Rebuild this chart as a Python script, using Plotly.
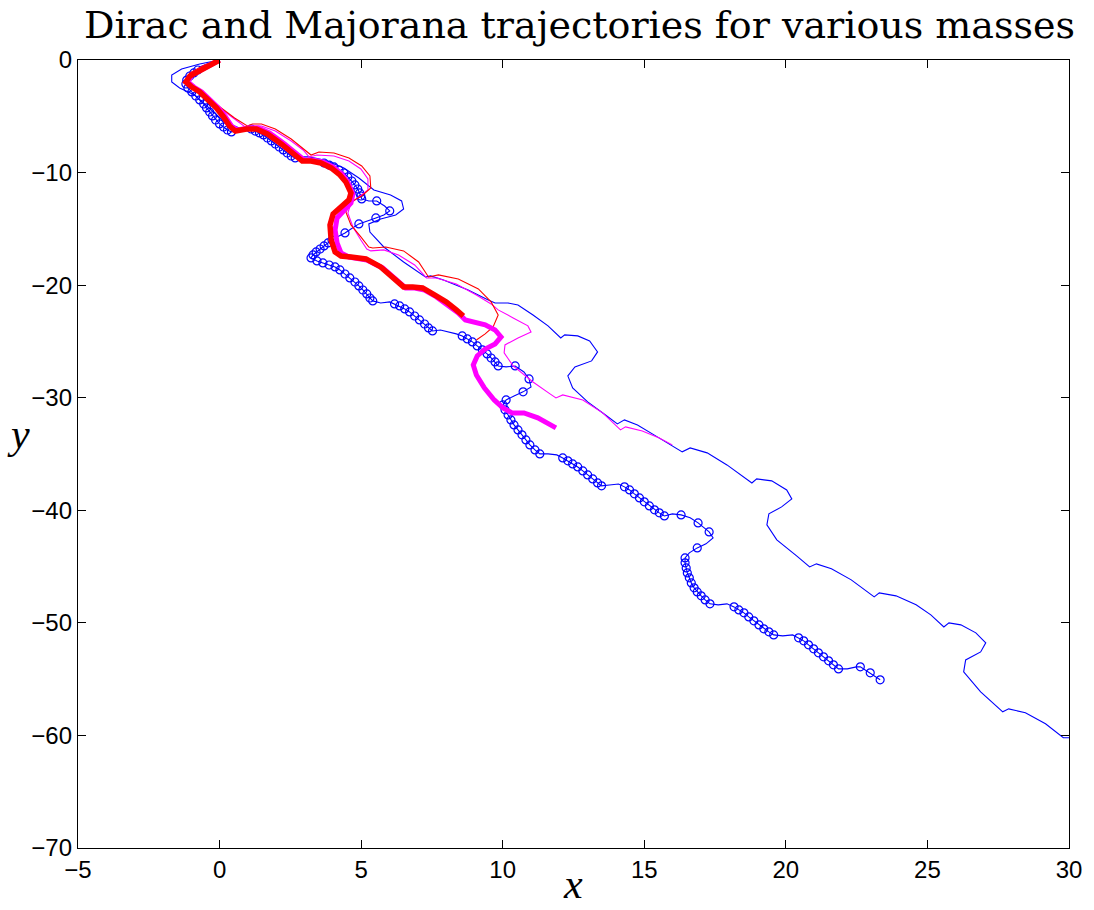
import plotly.graph_objects as go

# ---- trajectory samples (x, y) ----

# heavy red track (Majorana, larger mass)
red_thick_x = [0.00, -0.53, -1.05, -1.19, -0.98, -0.70, -0.39, -0.11, 0.14, 0.35, 0.56, 0.95, 1.30, 1.69,
               2.18, 2.64, 2.92, 3.23, 3.58, 3.94, 4.25, 4.46, 4.64, 4.57, 4.29, 4.01, 3.90, 3.94, 4.08,
               4.29, 4.64, 5.17, 5.69, 6.18, 6.50, 6.82, 7.17, 7.59, 8.01, 8.36, 8.61]
red_thick_y = [0.00, -0.71, -1.42, -1.95, -2.40, -2.84, -3.55, -4.26, -5.06, -5.86, -6.31, -6.13, -6.13,
               -6.57, -7.46, -8.44, -8.97, -8.97, -9.15, -9.59, -10.21, -10.83, -11.81, -12.43, -13.06,
               -13.68, -14.65, -15.99, -17.05, -17.41, -17.50, -17.67, -18.38, -19.45, -20.16, -20.16,
               -20.25, -20.87, -21.49, -22.20, -22.74]

# heavy magenta track
mag_thick_x = [0.00, -0.49, -0.98, -1.12, -0.91, -0.63, -0.32, -0.04, 0.21, 0.42, 0.63, 1.02, 1.37, 1.76,
               2.25, 2.71, 2.99, 3.30, 3.65, 4.01, 4.32, 4.53, 4.71, 4.64, 4.39, 4.15, 4.08, 4.15, 4.29,
               4.57, 5.20, 5.76, 6.25, 6.57, 6.89, 7.24, 7.66, 8.08, 8.43, 8.68, 8.99, 9.38, 9.73, 9.94,
               9.73, 9.38, 9.10, 8.96, 9.07, 9.35, 9.70, 10.01, 10.33, 10.75, 11.24, 11.60, 11.88]
mag_thick_y = [0.00, -0.62, -1.33, -1.95, -2.40, -2.84, -3.55, -4.26, -5.06, -5.86, -6.22, -6.04, -6.04,
               -6.48, -7.37, -8.35, -8.88, -8.88, -9.06, -9.50, -10.12, -10.83, -11.90, -12.70, -13.32,
               -14.03, -15.10, -16.25, -17.14, -17.50, -17.76, -18.47, -19.54, -20.25, -20.25, -20.43,
               -21.05, -21.76, -22.47, -23.09, -23.27, -23.53, -23.98, -24.60, -25.22, -25.67, -26.29,
               -27.09, -27.98, -29.13, -30.20, -30.91, -31.35, -31.35, -31.79, -32.24, -32.68]

# thin red track
red_thin_x = [0.00, -0.53, -1.05, -1.16, -0.88, -0.18, 0.53, 0.98, 1.16, 1.48, 1.97, 2.53, 2.99, 3.23,
              3.51, 4.04, 4.57, 5.02, 5.31, 5.34, 5.02, 4.64, 4.46, 4.64, 4.99, 5.27, 5.41, 5.87, 6.50,
              7.03, 7.38, 7.73, 8.43, 9.14, 9.59, 9.84, 9.66, 9.38, 9.07]
red_thin_y = [0.00, -0.44, -1.15, -1.78, -2.49, -3.82, -5.15, -5.86, -5.68, -5.68, -6.13, -7.02, -7.90,
              -8.44, -8.17, -8.26, -8.70, -9.41, -10.30, -11.37, -12.08, -12.61, -13.50, -14.65, -15.72,
              -16.61, -16.70, -16.61, -16.96, -17.94, -19.27, -19.09, -19.45, -20.34, -21.49, -22.65,
              -23.71, -24.33, -24.87]

# thin magenta track
mag_thin_x = [0.00, -0.60, -1.02, -1.09, -0.81, -0.18, 0.53, 0.95, 1.16, 1.48, 1.97, 2.53, 2.95, 3.16,
              3.44, 4.04, 4.57, 4.99, 5.24, 5.24, 4.92, 4.64, 4.53, 4.71, 4.99, 5.20, 5.34, 5.80, 6.32,
              6.89, 7.31, 7.66, 8.36, 9.07, 9.59, 9.84, 10.37, 10.89, 11.00, 10.54, 10.08, 10.05, 10.37,
              11.07, 11.67, 11.88, 12.12, 12.83, 13.53, 14.16, 14.34, 14.93, 15.53, 15.99]
mag_thin_y = [0.00, -0.53, -1.24, -1.87, -2.58, -3.91, -5.24, -6.04, -5.86, -5.86, -6.31, -7.19, -7.99,
              -8.61, -8.44, -8.53, -8.97, -9.68, -10.57, -11.55, -12.17, -12.70, -13.59, -14.83, -15.99,
              -16.79, -16.96, -16.87, -17.32, -18.21, -19.36, -19.36, -19.89, -20.87, -21.67, -22.20,
              -22.91, -23.62, -24.16, -24.69, -25.31, -26.02, -27.18, -28.60, -29.66, -30.02, -29.75,
              -30.20, -31.35, -32.86, -32.59, -32.95, -33.57, -34.19]

# thin blue track (Dirac, smallest mass) running off the right edge
blue_thin_x = [0.00, -0.70, -1.34, -1.69, -1.69, -1.41, -0.88, -0.28, 0.18, 0.70, 1.12, 1.58, 2.11, 2.71,
               3.16, 3.69, 4.39, 4.92, 5.45, 6.04, 6.43, 6.50, 6.22, 5.69, 5.27, 5.31, 5.80, 6.50, 7.27,
               7.45, 7.91, 8.78, 9.49, 9.73, 10.19, 10.54, 11.07, 11.60, 12.05, 12.19, 12.65, 13.07,
               13.35, 13.14, 12.55, 12.30, 12.47, 13.00, 13.63, 14.05, 14.30, 14.76, 15.46, 16.34, 16.62,
               17.22, 17.92, 18.80, 18.97, 19.50, 20.03, 20.21, 19.85, 19.40, 19.33, 19.68, 20.38, 20.84,
               21.08, 21.61, 22.31, 23.12, 23.30, 23.89, 24.60, 25.12, 25.58, 25.76, 26.18, 26.71, 27.06,
               26.88, 26.35, 26.28, 26.88, 27.66, 27.87, 28.46, 29.17, 29.80, 30.00]
blue_thin_y = [0.00, -0.36, -0.80, -1.33, -1.95, -2.49, -3.11, -4.44, -5.51, -6.04, -5.95, -6.22, -7.37,
               -8.61, -8.61, -8.88, -9.59, -10.48, -11.55, -11.99, -12.52, -13.23, -13.77, -14.12, -14.56,
               -15.28, -16.61, -17.94, -19.27, -19.18, -19.54, -20.43, -21.31, -21.58, -21.58, -21.76,
               -22.65, -23.62, -24.69, -24.42, -24.51, -24.96, -25.93, -26.73, -27.26, -28.06, -29.13,
               -30.37, -31.53, -32.33, -31.97, -32.42, -33.48, -34.81, -34.46, -34.90, -35.97, -37.57,
               -37.21, -37.39, -38.19, -38.99, -39.70, -40.32, -41.30, -42.63, -44.05, -45.03, -44.76,
               -45.20, -46.18, -47.69, -47.34, -47.60, -48.40, -49.29, -50.36, -50.00, -50.18, -50.89,
               -51.78, -52.58, -53.29, -54.35, -56.13, -57.90, -57.64, -57.99, -58.97, -60.21, -60.21]

# looping blue track; loop flag marks where the particle is circling
blue_loop_x = [0.00, -0.35, -0.70,
               -0.77, -0.91, -1.05, -1.16, -1.19, -1.12, -0.98, -0.84, -0.70, -0.56, -0.46, -0.35, -0.25,
               -0.14, 0.00, 0.14, 0.28, 0.42,
               0.70, 0.98,
               1.12, 1.26, 1.41, 1.55, 1.69, 1.83, 1.97, 2.11, 2.25, 2.39, 2.53, 2.67,
               2.99, 3.34,
               3.69, 3.87, 4.04, 4.22, 4.39, 4.53, 4.67, 4.78, 4.88, 4.95, 4.99, 5.02,
               5.27, 5.55, 5.83, 6.01, 5.80, 5.52, 5.20, 4.92, 4.64, 4.43, 4.15,
               3.97, 3.83, 3.69, 3.55, 3.41, 3.30, 3.23,
               3.44, 3.65, 3.87, 4.08, 4.25, 4.43, 4.60, 4.78, 4.92, 5.06, 5.20, 5.31, 5.41,
               5.69, 6.01,
               6.18, 6.36, 6.54, 6.71, 6.89, 7.06, 7.24, 7.38, 7.52,
               7.80, 8.12, 8.36,
               8.57, 8.75, 8.93, 9.10, 9.28, 9.45, 9.59, 9.73, 9.84,
               10.12, 10.44, 10.75, 10.93, 11.00, 10.72, 10.40, 10.12,
               10.01, 10.08, 10.19, 10.29, 10.40, 10.54, 10.68, 10.82, 10.96, 11.14, 11.31,
               11.60, 11.91,
               12.12, 12.30, 12.47, 12.65, 12.83, 13.00, 13.18, 13.35, 13.49,
               13.77, 14.09,
               14.30, 14.48, 14.65, 14.83, 15.00, 15.18, 15.36, 15.53, 15.71,
               15.99, 16.30, 16.62, 16.90, 17.11, 17.29, 17.43, 17.18, 16.87, 16.59,
               16.44, 16.44, 16.48, 16.52, 16.59, 16.66, 16.76, 16.87, 17.01, 17.15, 17.32,
               17.61, 17.92,
               18.17, 18.34, 18.52, 18.69, 18.87, 19.05, 19.22, 19.40, 19.57,
               19.89, 20.24,
               20.45, 20.63, 20.80, 20.98, 21.15, 21.33, 21.51, 21.68, 21.86,
               22.17, 22.49, 22.63, 22.84, 22.98, 23.16, 23.33]
blue_loop_y = [0.00, -0.27, -0.62,
               -0.89, -1.15, -1.42, -1.78, -2.13, -2.49, -2.84, -3.20, -3.55, -3.91, -4.26, -4.62, -4.97,
               -5.33, -5.68, -5.95, -6.22, -6.39,
               -6.22, -6.31,
               -6.13, -6.31, -6.48, -6.66, -6.93, -7.19, -7.46, -7.73, -7.99, -8.26, -8.53, -8.70,
               -8.88, -8.97,
               -9.15, -9.33, -9.50, -9.77, -10.04, -10.39, -10.75, -11.10, -11.46, -11.81, -12.08, -12.34,
               -12.52, -12.52, -12.97, -13.41, -13.77, -14.03, -14.30, -14.56, -15.01, -15.36, -15.72,
               -15.99, -16.25, -16.52, -16.79, -17.05, -17.32, -17.58,
               -17.85, -18.03, -18.21, -18.38, -18.65, -19.01, -19.36, -19.72, -20.07, -20.43, -20.78,
               -21.14, -21.40,
               -21.58, -21.49,
               -21.67, -21.85, -22.11, -22.38, -22.74, -23.09, -23.45, -23.80, -24.07,
               -23.98, -24.16, -24.33,
               -24.51, -24.78, -25.04, -25.40, -25.75, -26.11, -26.47, -26.82, -27.18,
               -27.26, -27.18, -27.71, -28.33, -29.04, -29.48, -29.84, -30.20,
               -30.64, -31.08, -31.53, -31.97, -32.42, -32.86, -33.30, -33.75, -34.19, -34.64, -34.99,
               -34.99, -35.08,
               -35.35, -35.61, -35.88, -36.15, -36.50, -36.86, -37.21, -37.57, -37.83,
               -37.75, -37.66,
               -37.92, -38.19, -38.54, -38.90, -39.25, -39.61, -39.96, -40.23, -40.50,
               -40.32, -40.41, -40.67, -41.12, -41.56, -41.92, -42.45, -42.98, -43.34, -43.78,
               -44.23, -44.67, -45.12, -45.56, -46.00, -46.45, -46.89, -47.25, -47.60, -47.96, -48.31,
               -48.40, -48.31,
               -48.58, -48.85, -49.11, -49.47, -49.82, -50.18, -50.53, -50.80, -51.07,
               -51.16, -51.07,
               -51.33, -51.60, -51.95, -52.31, -52.66, -53.02, -53.37, -53.73, -54.09,
               -54.09, -53.91, -53.91, -54.26, -54.44, -54.79, -55.06]
blue_loop_flag = [0, 0, 0,
                  1, 1, 1, 1, 1, 1, 1, 1, 1, 1, 1, 1, 1, 1, 1, 1, 1, 1,
                  0, 0,
                  1, 1, 1, 1, 1, 1, 1, 1, 1, 1, 1, 1,
                  0, 0,
                  1, 1, 1, 1, 1, 1, 1, 1, 1, 1, 1, 1,
                  0, 1, 0, 1, 0, 1, 0, 1, 0, 1, 0,
                  1, 1, 1, 1, 1, 1, 1,
                  1, 1, 1, 1, 1, 1, 1, 1, 1, 1, 1, 1, 1,
                  0, 0,
                  1, 1, 1, 1, 1, 1, 1, 1, 1,
                  0, 0, 0,
                  1, 1, 1, 1, 1, 1, 1, 1, 1,
                  0, 1, 0, 1, 0, 1, 0, 1,
                  1, 1, 1, 1, 1, 1, 1, 1, 1, 1, 1,
                  0, 0,
                  1, 1, 1, 1, 1, 1, 1, 1, 1,
                  0, 0,
                  1, 1, 1, 1, 1, 1, 1, 1, 1,
                  0, 1, 0, 1, 0, 1, 0, 0, 1, 0,
                  1, 1, 1, 1, 1, 1, 1, 1, 1, 1, 1,
                  0, 0,
                  1, 1, 1, 1, 1, 1, 1, 1, 1,
                  0, 0,
                  1, 1, 1, 1, 1, 1, 1, 1, 1,
                  0, 0, 1, 0, 1, 0, 1]

x_ticks = [-5, 0, 5, 10, 15, 20, 25, 30]
y_ticks = [-70, -60, -50, -40, -30, -20, -10, 0]

BLUE = "#0000ff"
RED = "#ff0000"
MAGENTA = "#ff00ff"

fig = go.Figure()

fig.add_trace(go.Scatter(x=blue_thin_x, y=blue_thin_y, mode="lines",
                         line=dict(color=BLUE, width=1.1), hoverinfo="skip"))

fig.add_trace(go.Scatter(x=blue_loop_x, y=blue_loop_y, mode="lines",
                         line=dict(color=BLUE, width=1.1), hoverinfo="skip"))
loop_x = [x for x, f in zip(blue_loop_x, blue_loop_flag) if f]
loop_y = [y for y, f in zip(blue_loop_y, blue_loop_flag) if f]
fig.add_trace(go.Scatter(x=loop_x, y=loop_y, mode="markers",
                         marker=dict(symbol="circle-open", size=8, color=BLUE,
                                     line=dict(width=1.2, color=BLUE)),
                         hoverinfo="skip"))

fig.add_trace(go.Scatter(x=mag_thin_x, y=mag_thin_y, mode="lines",
                         line=dict(color=MAGENTA, width=1.1), hoverinfo="skip"))
fig.add_trace(go.Scatter(x=red_thin_x, y=red_thin_y, mode="lines",
                         line=dict(color=RED, width=1.1), hoverinfo="skip"))
fig.add_trace(go.Scatter(x=mag_thick_x, y=mag_thick_y, mode="lines",
                         line=dict(color=MAGENTA, width=5), hoverinfo="skip"))
fig.add_trace(go.Scatter(x=red_thick_x, y=red_thick_y, mode="lines",
                         line=dict(color=RED, width=5.5), hoverinfo="skip"))


def tick_text(values):
    return [f"{v:g}".replace("-", "\u2212") for v in values]


axis_common = dict(showgrid=False, zeroline=False, showline=True, linecolor="black",
                   linewidth=1.3, mirror="ticks", ticks="inside", ticklen=8, tickwidth=1,
                   tickcolor="black",
                   tickfont=dict(family="Liberation Sans, Arial, sans-serif", size=24,
                                 color="black"))

fig.update_xaxes(range=[-5, 30], tickvals=x_ticks, ticktext=tick_text(x_ticks), **axis_common)
fig.update_yaxes(range=[-70, 0], tickvals=y_ticks, ticktext=tick_text(y_ticks), **axis_common)

fig.add_annotation(text="Dirac and Majorana trajectories for various masses",
                   xref="paper", yref="paper", x=0.506, y=1.0444, xanchor="center", yanchor="middle",
                   showarrow=False,
                   font=dict(family="DejaVu Serif, serif", size=38, color="black"))
fig.add_annotation(text="<i>x</i>", xref="paper", yref="paper", x=0.499, y=-0.0774,
                   xanchor="center", yanchor="bottom", showarrow=False,
                   font=dict(family="Liberation Serif, serif", size=42, color="black"))
fig.add_annotation(text="<i>y</i>", xref="paper", yref="paper", x=-0.060, y=0.525,
                   xanchor="center", yanchor="middle", showarrow=False,
                   font=dict(family="Liberation Serif, serif", size=42, color="black"))

fig.update_layout(width=1094, height=910, showlegend=False,
                  margin=dict(l=78, r=20, t=60, b=62),
                  paper_bgcolor="white", plot_bgcolor="white")

fig.write_html("out.html")
